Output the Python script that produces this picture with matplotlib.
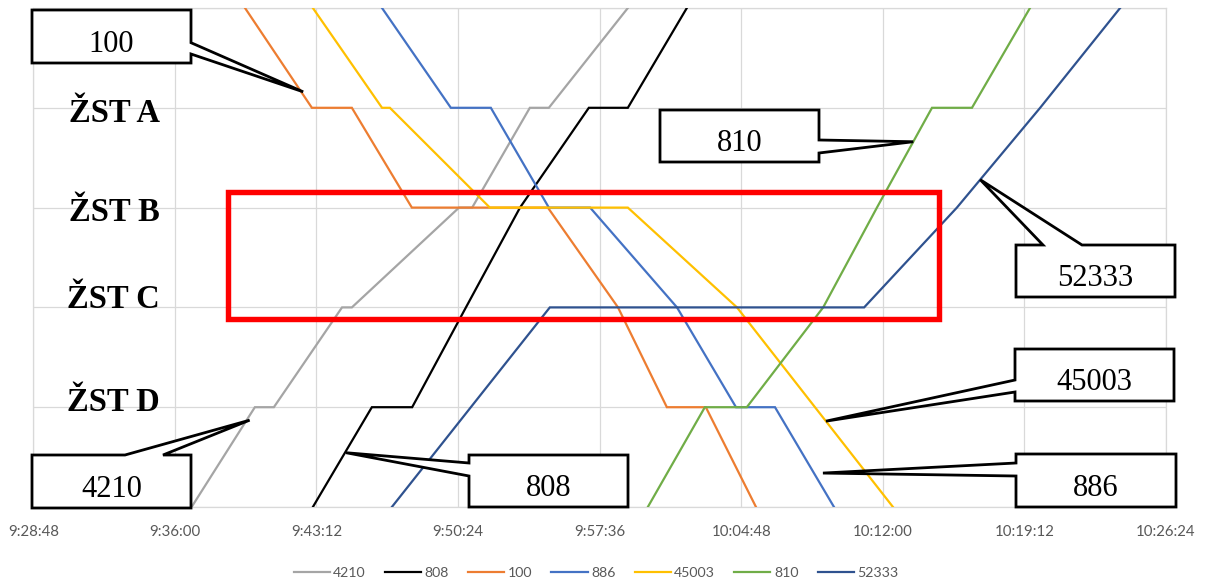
import matplotlib
matplotlib.use("Agg")
import matplotlib.pyplot as plt
from matplotlib.patches import Polygon, Rectangle
from matplotlib.ticker import MultipleLocator, FuncFormatter

# ---- timetable data: (time, position) per train; positions 1..4 = ŽST D..A ----
train_ids = ["4210", "808", "100", "886", "45003", "810", "52333"]
train_colors = ["#A5A5A5", "#000000", "#ED7D31", "#4472C4", "#FFC000", "#70AD47", "#2F528F"]

t_4210 = ["9:36:51", "9:40:04", "9:41:02", "9:44:30", "9:45:00", "9:50:27", "9:51:07", "9:54:03", "9:55:01", "9:59:02"]
y_4210 = [0, 1, 1, 2, 2, 3, 3, 4, 4, 5]

t_808 = ["9:43:01", "9:46:01", "9:48:04", "9:50:48", "9:53:33", "9:57:03", "9:59:02", "10:02:02"]
y_808 = [0, 1, 1, 2, 3, 4, 4, 5]

t_100 = ["9:39:34", "9:42:58", "9:45:00", "9:48:03", "9:54:58", "9:58:32", "10:01:01", "10:03:00", "10:05:33"]
y_100 = [5, 4, 4, 3, 3, 2, 1, 1, 0]

t_886 = ["9:46:32", "9:50:02", "9:52:04", "9:55:01", "9:57:07", "10:01:32", "10:04:32", "10:06:31", "10:09:31"]
y_886 = [5, 4, 4, 3, 3, 2, 1, 1, 0]

t_45003 = ["9:43:01", "9:46:32", "9:46:56", "9:52:01", "9:59:02", "10:04:35", "10:08:33", "10:12:31"]
y_45003 = [5, 4, 4, 3, 3, 2, 1, 0]

t_810 = ["10:00:03", "10:02:57", "10:05:05", "10:08:58", "10:11:42", "10:14:30", "10:16:32", "10:19:29"]
y_810 = [0, 1, 1, 2, 3, 4, 4, 5]

t_52333 = ["9:47:02", "9:55:04", "10:11:03", "10:15:46", "10:20:00", "10:24:04"]
y_52333 = [0, 2, 2, 3, 4, 5]

station_names = ["ŽST A", "ŽST B", "ŽST C", "ŽST D"]

x_start = "9:28:48"
x_end = "10:26:24"
x_step_s = 432


def to_sec(s):
    h, m, sec = (int(v) for v in s.split(":"))
    return h * 3600 + m * 60 + sec


def fmt_time(v, _pos=None):
    v = int(round(v))
    return f"{v // 3600}:{(v % 3600) // 60:02d}:{v % 60:02d}"


series = {
    "4210": (t_4210, y_4210),
    "808": (t_808, y_808),
    "100": (t_100, y_100),
    "886": (t_886, y_886),
    "45003": (t_45003, y_45003),
    "810": (t_810, y_810),
    "52333": (t_52333, y_52333),
}

W, H = 1211, 582
fig = plt.figure(figsize=(W / 100, H / 100), dpi=100)
ax = fig.add_axes([33.3 / W, 75 / H, (1166 - 33.3) / W, (507 - 8) / H])

grid_c = "#D9D9D9"
for name, color in zip(train_ids, train_colors):
    ts, ys = series[name]
    ax.plot([to_sec(t) for t in ts], ys, color=color, lw=1.6, label=name,
            solid_joinstyle="miter", zorder=3)

ax.set_xlim(to_sec(x_start), to_sec(x_end))
ax.set_ylim(0, 5)
ax.xaxis.set_major_locator(MultipleLocator(x_step_s))
ax.xaxis.set_major_formatter(FuncFormatter(fmt_time))
ax.yaxis.set_major_locator(MultipleLocator(1))
ax.set_yticklabels([])
ax.grid(True, color=grid_c, lw=0.9, zorder=0)
ax.tick_params(axis="both", length=0)
ax.tick_params(axis="x", pad=13, labelsize=10.8, labelcolor="#595959")
for lab in ax.get_xticklabels():
    lab.set_fontfamily("Lato")
for sp in ax.spines.values():
    sp.set_color(grid_c)
    sp.set_linewidth(0.9)


def fx(px):
    return px / W


def fy(py):
    return (H - py) / H


# station labels inside the plotting area
station_baselines = [122, 221, 308, 411]
for name, base in zip(station_names, station_baselines):
    fig.text(fx(160), fy(base), name, ha="right", va="baseline",
             fontsize=23.5, fontweight="bold", family="Liberation Serif", zorder=6)

# highlighted section
fig.add_artist(Rectangle((fx(228), fy(319)), fx(938.7) - fx(228), fy(191.5) - fy(319),
                         fill=False, edgecolor="#FF0000", lw=3.9, zorder=7,
                         transform=fig.transFigure))


def point_on(name, yv):
    ts, ys = series[name]
    xs = [to_sec(t) for t in ts]
    for i in range(len(ys) - 1):
        y0, y1 = ys[i], ys[i + 1]
        if y0 != y1 and min(y0, y1) <= yv <= max(y0, y1):
            f = (yv - y0) / (y1 - y0)
            return xs[i] + f * (xs[i + 1] - xs[i]), yv
    return xs[0], ys[0]


def tip_px(name, yv, dx=0.0):
    d = ax.transData.transform(point_on(name, yv))
    return d[0] + dx, H - d[1]


# callouts: label, train position on the line, box (L, T, R, B), pointer side and base points
callouts = [
    ("100", 4.16, 2, (32, 10, 191, 63), "right", (42.7, 54.0)),
    ("810", 3.66, 0, (660, 110, 819, 162), "right", (140.0, 153.0)),
    ("52333", 3.28, 0, (1016, 245, 1175, 297), "top", (1043.0, 1082.0)),
    ("45003", 0.86, 0, (1015, 349, 1174, 401), "left", (380.0, 392.0)),
    ("886", 0.34, 9, (1016, 454, 1176, 507), "left", (463.0, 476.0)),
    ("4210", 0.87, 3, (32, 455, 191, 508), "top", (125.0, 163.0)),
    ("808", 0.544, 1, (469, 455, 628, 507), "left", (463.0, 476.0)),
]

fig.canvas.draw()
for label, yv, dx, (L, T, R, B), side, (a, b) in callouts:
    tx, ty = tip_px(label, yv, dx)
    if side == "right":
        pts = [(L, T), (R, T), (R, a), (tx, ty), (R, b), (R, B), (L, B)]
    elif side == "left":
        pts = [(L, T), (R, T), (R, B), (L, B), (L, b), (tx, ty), (L, a)]
    else:  # top
        pts = [(L, T), (a, T), (tx, ty), (b, T), (R, T), (R, B), (L, B)]
    poly = Polygon([(fx(x), fy(y)) for x, y in pts], closed=True, facecolor="white",
                   edgecolor="black", lw=2.0, joinstyle="miter", zorder=8,
                   transform=fig.transFigure)
    fig.add_artist(poly)
    fig.text(fx((L + R) / 2), fy(B - 11), label, ha="center", va="baseline",
             fontsize=22, family="Liberation Serif", zorder=9)

leg = fig.legend(loc="center", bbox_to_anchor=(fx(596), fy(573)), ncol=7, frameon=False,
                 handlelength=2.55, handletextpad=0.25, columnspacing=1.35,
                 prop={"family": "Lato", "size": 10.2})
for txt in leg.get_texts():
    txt.set_color("#595959")

fig.savefig("out.png", dpi=100)
